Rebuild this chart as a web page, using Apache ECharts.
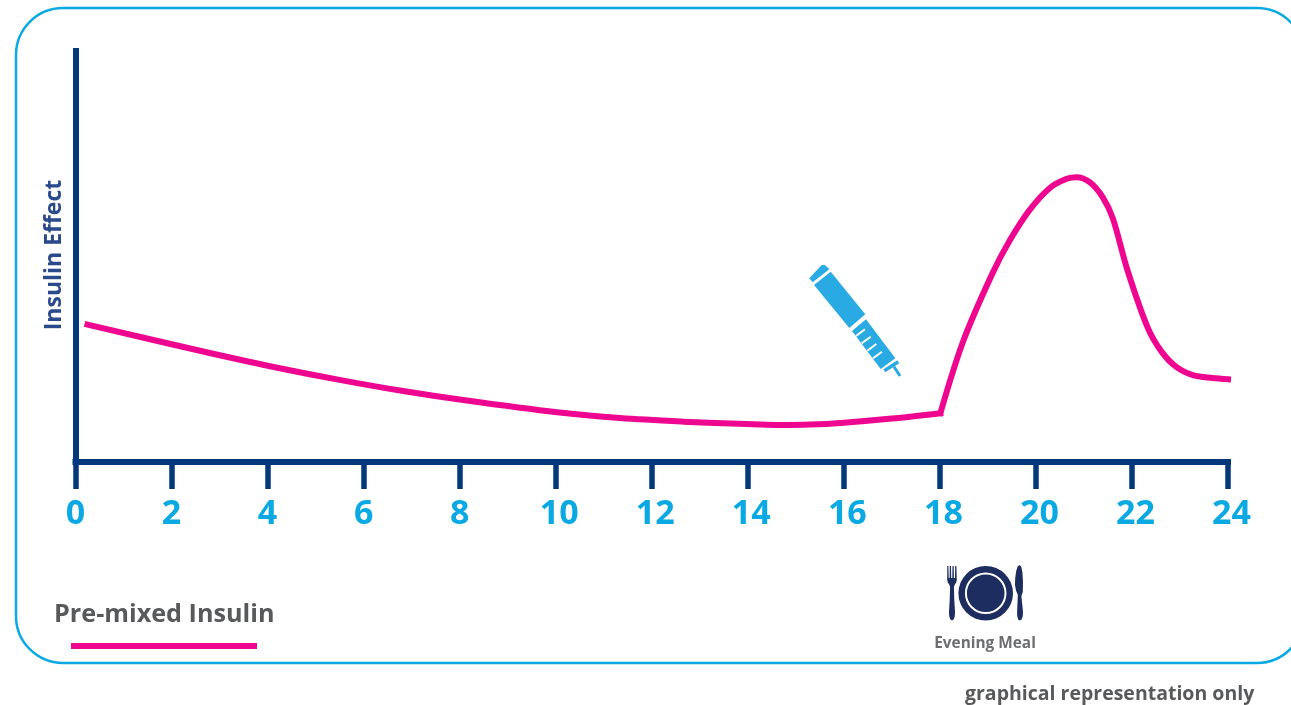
<!DOCTYPE html>
<html>
<head>
<meta charset="utf-8">
<style>html,body{margin:0;padding:0;background:#fff}#chart{width:1291px;height:705px}</style>
<script src="https://cdn.jsdelivr.net/npm/echarts@6/dist/echarts.min.js"></script>
</head>
<body>
<div id="chart"></div>
<script>
// Insulin effect over 24 hours, in two phases split at the evening injection.
const overnightHours = [0.25, 2.84, 4.15, 5.47, 6.79, 8.11, 10.03, 11.34, 12.65, 13.98, 14.6, 15.3, 16, 17, 18.01];
const overnightEffect = [33.2, 26.2, 22.9, 19.9, 17.2, 14.9, 12.0, 10.6, 9.75, 9.15, 8.95, 9.05, 9.5, 10.5, 11.8];
const eveningHours = [18.01, 18.48, 19.08, 19.46, 19.87, 20.29, 20.64, 20.85, 21.12, 21.39, 21.6, 21.91, 22.33, 22.62, 22.93, 23.27, 23.68, 24];
const eveningEffect = [11.8, 29.0, 45.2, 53.6, 60.9, 66.2, 68.4, 68.8, 67.6, 64.0, 58.9, 46.2, 32.4, 26.6, 22.9, 21.0, 20.3, 20.0];
const hourTicks = [0, 2, 4, 6, 8, 10, 12, 14, 16, 18, 20, 22, 24];

const seriesName = 'Pre-mixed Insulin';
const yAxisTitle = 'Insulin Effect';
const mealLabel = 'Evening Meal';
const footnote = 'graphical representation only';

const NAVY = '#03397c', CYAN = '#0ba9e3', PINK = '#ee0590', GREY = '#58595b', PLATE = '#1e2d5f', PEN = '#2aaae2';
const FONT = '"Open Sans", sans-serif';

const zip = (xs, ys) => xs.map((x, i) => [x, ys[i]]);
const curve = (xs, ys) => ({
  name: seriesName, type: 'line', data: zip(xs, ys), smooth: 0.33, showSymbol: false, clip: false,
  lineStyle: { color: PINK, width: 6, cap: 'square', join: 'round' }
});

// Icon outlines for the place setting
const forkOutline = [
  [947.3, 566], [948.4, 566], [948.7, 578], [949.6, 578], [949.8, 566], [951, 566], [951.2, 578], [952.3, 578],
  [952.5, 566], [953.7, 566], [953.9, 578], [955, 578], [955.2, 566], [956.4, 566], [956.8, 580], [956.2, 582.5],
  [954.8, 584.5], [953.9, 587], [954.3, 600], [955, 612], [954.8, 616], [953.8, 619.2], [952, 620.5], [950.2, 619.2],
  [949.2, 616], [949, 612], [949.7, 600], [950.1, 587], [949.2, 584.5], [947.8, 582.5], [947.2, 580]
];
const knifeOutline = [
  [1019.5, 565], [1021.2, 566.5], [1022.4, 572], [1023, 582], [1022.8, 592], [1021.4, 596], [1022.2, 604], [1023, 612],
  [1022.8, 616], [1021.6, 619.4], [1019.8, 620.5], [1018.2, 619.4], [1017.2, 616], [1017.1, 612], [1017.8, 595],
  [1016, 590.5], [1015, 585], [1015.2, 578], [1016.2, 571], [1017.6, 566.5]
];

const chart = echarts.init(document.getElementById('chart'), null, { renderer: 'canvas' });
chart.setOption({
  animation: false,
  backgroundColor: '#ffffff',
  grid: { left: 75.5, right: 63, top: 48, bottom: 243 },
  xAxis: {
    type: 'value', min: 0, max: 24, interval: 2,
    splitLine: { show: false },
    axisLine: { lineStyle: { color: NAVY, width: 6, cap: 'square' } },
    axisTick: { show: true, length: 27, lineStyle: { color: NAVY, width: 5.5 } },
    axisLabel: {
      margin: 35, color: CYAN, fontFamily: FONT, fontWeight: 'bold', fontSize: 34,
      showMinLabel: true, showMaxLabel: true, hideOverlap: false,
      formatter: v => (hourTicks.includes(v) && v >= 10 ? '{wide|' + v + '}' : String(v)),
      rich: { wide: { color: CYAN, fontFamily: FONT, fontWeight: 'bold', fontSize: 34, padding: [0, 0, 0, 7] } }
    }
  },
  yAxis: {
    type: 'value', min: 0, max: 100,
    splitLine: { show: false }, axisTick: { show: false }, axisLabel: { show: false },
    axisLine: { show: true, lineStyle: { color: NAVY, width: 6, cap: 'butt' } },
    name: yAxisTitle, nameLocation: 'middle', nameRotate: 90, nameGap: 10,
    nameTextStyle: { color: '#2a4a8c', fontFamily: FONT, fontWeight: 'bold', fontSize: 23 }
  },
  series: [curve(overnightHours, overnightEffect), curve(eveningHours, eveningEffect)],
  graphic: [
    // Rounded frame running off the right side of the canvas
    { type: 'rect', z: 0, shape: { x: 16, y: 8, width: 1288, height: 655, r: 47 },
      style: { fill: 'none', stroke: CYAN, lineWidth: 2.5 } },

    // Series key: name above a sample stroke
    { type: 'text', style: { x: 54, y: 615, text: seriesName, fill: GREY, font: 'bold 25.2px ' + FONT, textVerticalAlign: 'middle' } },
    { type: 'rect', shape: { x: 71, y: 643, width: 186, height: 6 }, style: { fill: PINK } },

    // Injection pen
    { type: 'polygon', shape: { points: [[809.3, 278.3], [821.7, 265], [825, 265], [829.3, 269.3], [812.7, 282.3]] }, style: { fill: PEN } },
    { type: 'polygon', shape: { points: [[814, 285], [830.7, 271.7], [865.3, 314.3], [849.3, 328]] }, style: { fill: PEN } },
    { type: 'polygon', shape: { points: [[866, 319.3], [895.3, 358.3], [880.7, 369], [852, 331]] }, style: { fill: PEN } },
    { type: 'line', shape: { x1: 856, y1: 336, x2: 865, y2: 329.3 }, style: { stroke: '#fff', lineWidth: 2 } },
    { type: 'line', shape: { x1: 861.7, y1: 343.3, x2: 870.7, y2: 336.7 }, style: { stroke: '#fff', lineWidth: 2 } },
    { type: 'line', shape: { x1: 867.3, y1: 350.7, x2: 876.3, y2: 344 }, style: { stroke: '#fff', lineWidth: 2 } },
    { type: 'line', shape: { x1: 873, y1: 358.3, x2: 882, y2: 351.7 }, style: { stroke: '#fff', lineWidth: 2 } },
    { type: 'line', shape: { x1: 884.3, y1: 370.7, x2: 898.3, y2: 361.7 }, style: { stroke: PEN, lineWidth: 3.5 } },
    { type: 'line', shape: { x1: 894, y1: 366.7, x2: 900, y2: 376 }, style: { stroke: PEN, lineWidth: 3 } },

    // Place setting: fork, plate, knife
    { type: 'circle', shape: { cx: 985.7, cy: 593.3, r: 27.3 }, style: { fill: PLATE } },
    { type: 'circle', shape: { cx: 985.7, cy: 593.3, r: 19.8 }, style: { fill: 'none', stroke: '#fff', lineWidth: 2 } },
    { type: 'polygon', shape: { points: forkOutline }, style: { fill: PLATE } },
    { type: 'polygon', shape: { points: knifeOutline }, style: { fill: PLATE } },
    { type: 'text', style: { x: 985, y: 644, text: mealLabel, fill: '#6d6e71', font: 'bold 15.4px ' + FONT, textAlign: 'center', textVerticalAlign: 'middle' } },

    // Footnote
    { type: 'text', style: { x: 965, y: 694, text: footnote, fill: GREY, font: 'bold 19.5px ' + FONT, textVerticalAlign: 'middle' } }
  ]
});
</script>
</body>
</html>
